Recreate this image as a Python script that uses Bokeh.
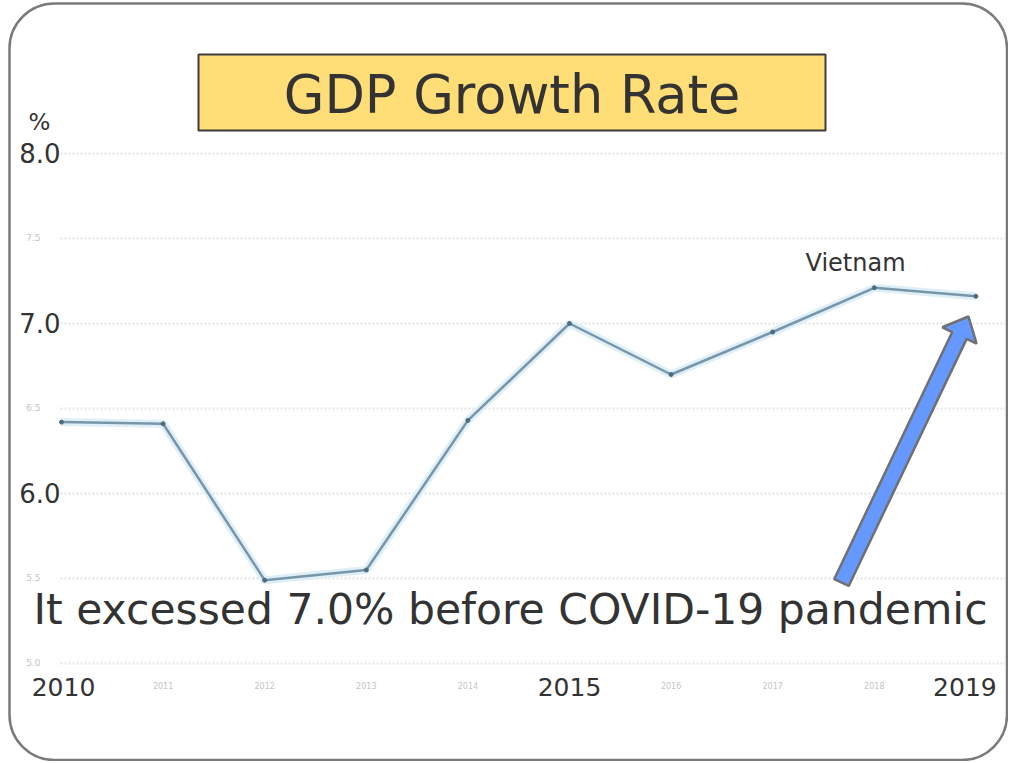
import numpy as np
from bokeh.plotting import figure
from bokeh.models import Range1d, BoxAnnotation
from bokeh.core.properties import value
from bokeh.embed import file_html
from bokeh.resources import INLINE

# ---------------- data ----------------
years = [2010, 2011, 2012, 2013, 2014, 2015, 2016, 2017, 2018, 2019]
growth = [6.42, 6.41, 5.49, 5.55, 6.43, 7.00, 6.70, 6.95, 7.21, 7.16]
series_name = "Vietnam"
title_text = "GDP Growth Rate"
unit_label = "%"
note_text = "It excessed 7.0% before COVID-19 pandemic"

major_y_ticks = [6.0, 7.0, 8.0]
major_y_labels = ["6.0", "7.0", "8.0"]
minor_y_ticks = [5.0, 5.5, 6.5, 7.5]
minor_y_labels = ["5.0", "5.5", "6.5", "7.5"]
grid_levels = [5.0, 5.5, 6.0, 6.5, 7.0, 7.5, 8.0]

major_x_ticks = [2010, 2015, 2019]
major_x_labels = ["2010", "2015", "2019"]
minor_x_ticks = [2011, 2012, 2013, 2014, 2016, 2017, 2018]
minor_x_labels = ["2011", "2012", "2013", "2014", "2016", "2017", "2018"]

# ---------------- layout (figure pixels) ----------------
W, H = 1008, 761
X0_PX = 61.0           # pixel position of first year
PX_PER_YEAR = 101.6
Y_TOP_TICK_PX = 153.0  # pixel position of 8.0
PX_PER_UNIT = 170.0

x_start = years[0] - X0_PX / PX_PER_YEAR
x_end = x_start + W / PX_PER_YEAR
y_top = max(major_y_ticks) + Y_TOP_TICK_PX / PX_PER_UNIT
y_bot = y_top - H / PX_PER_UNIT


def fx(px):
    return x_start + px / PX_PER_YEAR


def fy(py):
    return y_top - py / PX_PER_UNIT


FONT = value("DejaVu Sans")
DARK = "#333333"

p = figure(width=W, height=H, output_backend="svg", toolbar_location=None,
           x_range=Range1d(x_start, x_end), y_range=Range1d(y_bot, y_top),
           min_border=0, min_border_left=0, min_border_right=0,
           min_border_top=0, min_border_bottom=0)
p.xaxis.visible = False
p.yaxis.visible = False
p.grid.visible = False
p.outline_line_color = None
p.background_fill_color = "white"
p.border_fill_color = "white"

# faint dotted gridlines
gx0, gx1 = fx(60), fx(1005)
p.segment(x0=[gx0] * len(grid_levels), x1=[gx1] * len(grid_levels),
          y0=grid_levels, y1=grid_levels,
          line_color="#e4e4e4", line_width=2, line_dash="2 2")

# faint minor tick labels
p.text(x=[fx(40)] * len(minor_y_ticks),
       y=[v + 1 / PX_PER_UNIT for v in minor_y_ticks],
       text=minor_y_labels, text_font=FONT, text_font_size="9px",
       text_color="#c4c4c4", text_align="right", text_baseline="middle")
p.text(x=minor_x_ticks, y=[fy(685)] * len(minor_x_ticks),
       text=minor_x_labels, text_font=FONT, text_font_size="8px",
       text_color="#c4c4c4", text_align="center", text_baseline="middle")

# major tick labels
p.text(x=[fx(60)] * len(major_y_ticks),
       y=[v + 1 / PX_PER_UNIT for v in major_y_ticks],
       text=major_y_labels, text_font=FONT, text_font_size="26px",
       text_color=DARK, text_align="right", text_baseline="middle")
p.text(x=major_x_ticks, y=[fy(686)] * len(major_x_ticks),
       x_offset=[2, 0, -11],
       text=major_x_labels, text_font=FONT, text_font_size="25px",
       text_color=DARK, text_align="center", text_baseline="middle")

# unit label
p.text(x=[fx(39)], y=[fy(121)], text=[unit_label], text_font=FONT,
       text_font_size="23px", text_color=DARK, text_align="center",
       text_baseline="middle")

# data line with a light halo
p.line(years, growth, line_color="#dcedf6", line_width=8, line_alpha=0.9)
p.line(years, growth, line_color="#7896aa", line_width=2.5)
p.scatter(years, growth, size=4, color="#4d6b7c")

# series label
p.text(x=[fx(805)], y=[fy(262)], text=[series_name], text_font=FONT,
       text_font_size="24px", text_color=DARK, text_align="left",
       text_baseline="middle")

# title box
p.quad(left=[fx(198)], right=[fx(825)], top=[fy(54)], bottom=[fy(130)],
       fill_color="#FFDD77", line_color="#3c3c3c", line_width=2)
p.text(x=[fx(511.5)], y=[fy(94)], text=[title_text], text_font=FONT,
       text_font_size="52.5px", text_color=DARK, text_align="center",
       text_baseline="middle")

# arrow (block arrow built in pixel space, converted through the scales)
tail = np.array([841.0, 582.0])
tip = np.array([968.0, 316.0])
d = tip - tail
u = d / np.linalg.norm(d)
n = np.array([-u[1], u[0]])
sw, hw, hl = 8.0, 19.0, 21.0
base = tip - u * hl
pts = [tail + n * sw, base + n * sw, base + n * hw, tip,
       base - n * hw, base - n * sw, tail - n * sw]
p.patch([fx(q[0]) for q in pts], [fy(q[1]) for q in pts],
        fill_color="#6699ff", line_color="#707070", line_width=2.5)

# annotation text
p.text(x=[fx(33)], y=[fy(609)], text=[note_text], text_font=FONT,
       text_font_size="42.5px", text_color=DARK, text_align="left",
       text_baseline="middle")

# rounded frame
p.add_layout(BoxAnnotation(left=fx(9), right=fx(1006.5), top=fy(3), bottom=fy(759.5),
                           fill_color=None, line_color="#7a7a7a", line_alpha=1.0,
                           line_width=2.5, border_radius=45))

open("out.html", "w").write(file_html(p, INLINE))
